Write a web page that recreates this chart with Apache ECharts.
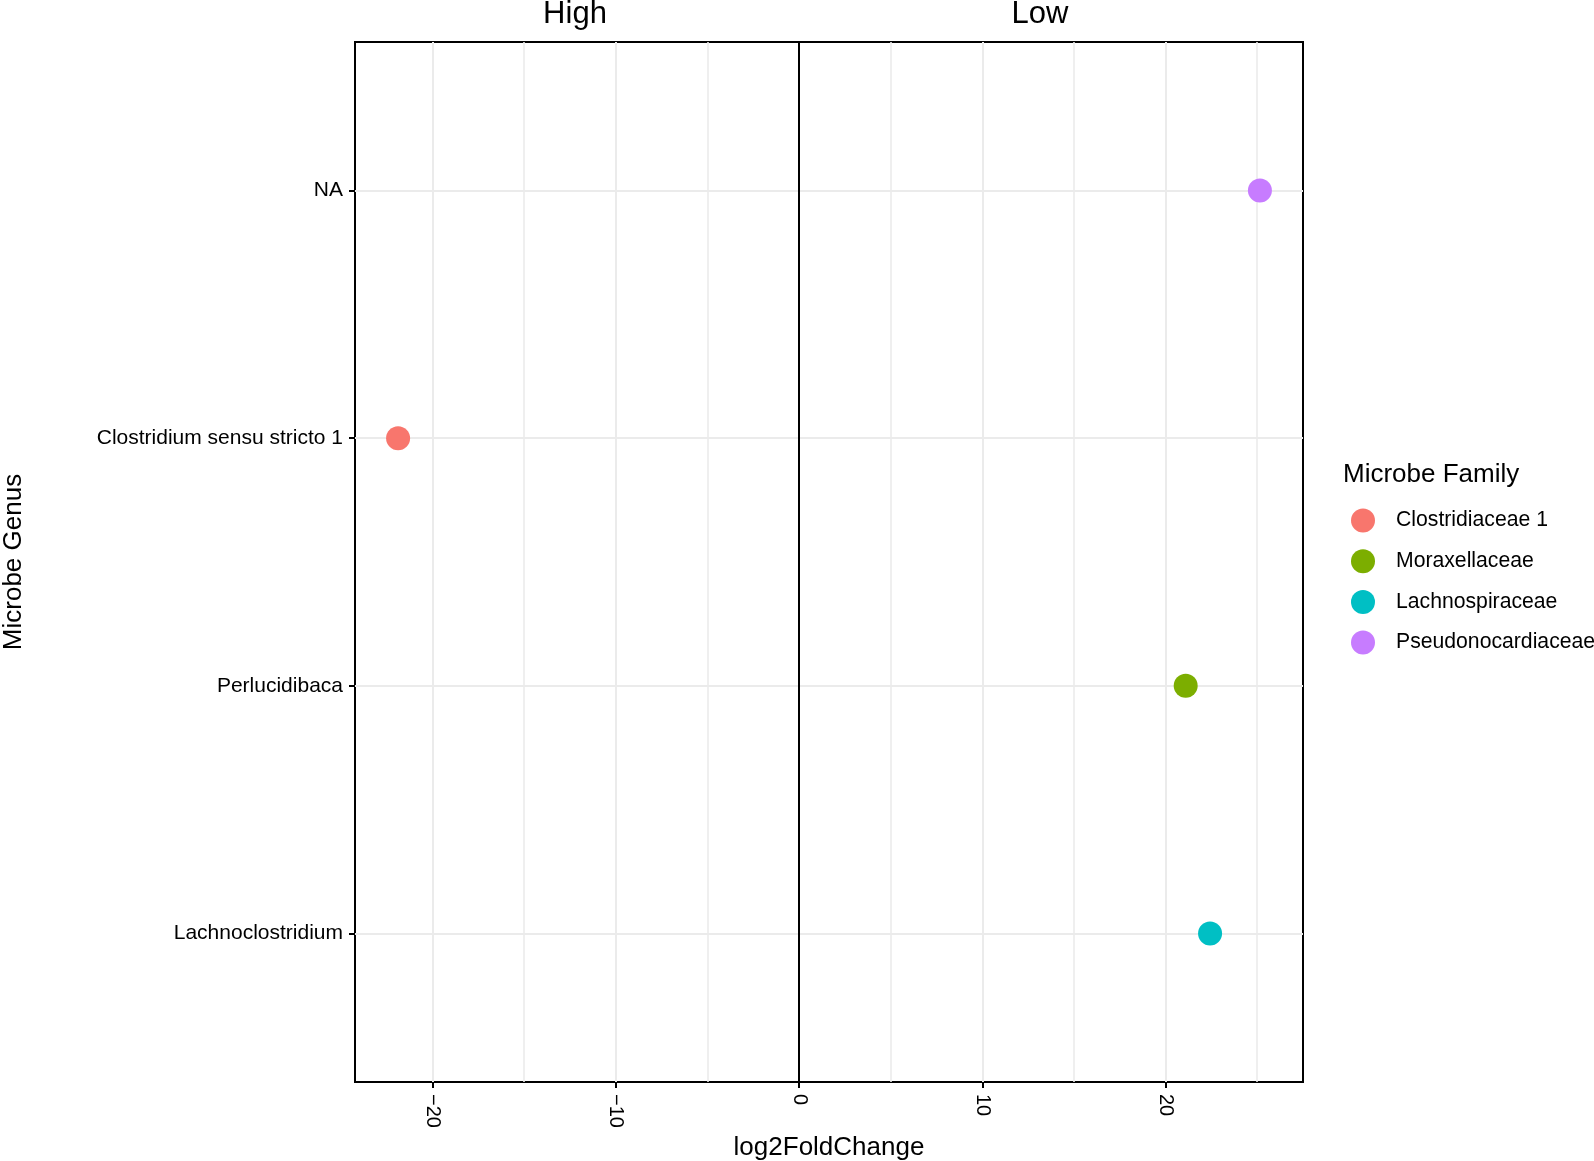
<!DOCTYPE html>
<html>
<head>
<meta charset="utf-8">
<script src="https://cdn.jsdelivr.net/npm/echarts@6/dist/echarts.min.js"></script>
<style>
html,body{margin:0;padding:0;background:#fff;}
#chart{width:1594px;height:1161px;}
</style>
</head>
<body>
<div id="chart"></div>
<script>
// ---- data ----
const genera = ['Lachnoclostridium', 'Perlucidibaca', 'Clostridium sensu stricto 1', 'NA']; // bottom -> top
const log2FoldChange = [22.43, 21.1, -21.88, 25.15];
const genusFamily = ['Lachnospiraceae', 'Moraxellaceae', 'Clostridiaceae 1', 'Pseudonocardiaceae'];
const families = ['Clostridiaceae 1', 'Moraxellaceae', 'Lachnospiraceae', 'Pseudonocardiaceae'];
const familyColors = ['#F8766D', '#7CAE00', '#00BFC4', '#C77CFF'];
const xMajorTicks = [-20, -10, 0, 10, 20];
const xMinorTicks = [-15, -5, 5, 15, 25];
const facetLabels = ['High', 'Low'];

const FONT = "'Liberation Sans', Arial, Helvetica, sans-serif";

// ggplot-like expansion (5% continuous, 0.6 discrete)
const dMin = Math.min(...log2FoldChange), dMax = Math.max(...log2FoldChange);
const pad = (dMax - dMin) * 0.05;
const xMin = dMin - pad, xMax = dMax + pad;
const yTicks = genera.map((g, i) => i);

const series = families.map((fam, k) => ({
  name: fam,
  type: 'scatter',
  xAxisIndex: 0,
  yAxisIndex: 0,
  symbol: 'circle',
  symbolSize: 24,
  itemStyle: { color: familyColors[k], opacity: 1 },
  z: 5,
  data: genera.map((g, i) => genusFamily[i] === fam ? [log2FoldChange[i], i] : null).filter(d => d)
}));
series.push({
  type: 'scatter',
  name: '__zero',
  data: [],
  xAxisIndex: 0,
  yAxisIndex: 0,
  z: 3,
  markLine: {
    silent: true,
    symbol: ['none', 'none'],
    label: { show: false },
    lineStyle: { color: '#000', width: 2, type: 'solid' },
    data: [{ xAxis: 0 }]
  }
});

const chart = echarts.init(document.getElementById('chart'), null, { renderer: 'canvas' });
chart.setOption({
  backgroundColor: '#fff',
  animation: false,
  textStyle: { fontFamily: FONT },
  grid: {
    left: 355, top: 42, width: 948, height: 1040,
    show: true, borderColor: '#000', borderWidth: 2, backgroundColor: 'transparent',
    containLabel: false
  },
  xAxis: [{
    type: 'value',
    min: xMin, max: xMax,
    position: 'bottom',
    axisLine: { show: false, onZero: false },
    axisTick: { show: true, length: 6, lineStyle: { color: '#000', width: 2 }, customValues: xMajorTicks },
    axisLabel: {
      customValues: xMajorTicks, rotate: -90, margin: 12,
      fontSize: 20, color: '#000', fontFamily: FONT,
      formatter: v => String(v).replace('-', '\u2212')
    },
    splitLine: { show: true, lineStyle: { color: '#EBEBEB', width: 2 } }
  }, {
    type: 'value',
    min: xMin, max: xMax,
    position: 'top',
    axisLine: { show: false, onZero: false },
    axisTick: { show: false, customValues: xMinorTicks },
    axisLabel: { show: false, customValues: xMinorTicks },
    splitLine: { show: true, lineStyle: { color: '#EBEBEB', width: 1.6 } }
  }],
  yAxis: {
    type: 'value',
    min: -0.6, max: genera.length - 1 + 0.6,
    position: 'left',
    axisLine: { show: false, onZero: false },
    axisTick: { show: true, length: 6, lineStyle: { color: '#000', width: 2 }, customValues: yTicks },
    axisLabel: {
      customValues: yTicks, margin: 12, fontSize: 21, color: '#000', fontFamily: FONT,
      formatter: v => genera[Math.round(v)]
    },
    splitLine: { show: true, lineStyle: { color: '#EBEBEB', width: 2 } }
  },
  legend: {
    data: families,
    orient: 'vertical',
    left: 1346, top: 503.5,
    itemWidth: 24, itemHeight: 24, itemGap: 16.7,
    icon: 'circle',
    formatter: n => '{a|' + n + '}',
    textStyle: {
      fontFamily: FONT, fontSize: 21.2, color: '#000',
      rich: { a: { fontFamily: FONT, fontSize: 21.2, color: '#000', padding: [0, 0, 0, 16] } }
    }
  },
  graphic: [
    { type: 'text', x: 575, y: 14, style: { text: facetLabels[0], font: '31px ' + FONT, fill: '#000', textAlign: 'center', textVerticalAlign: 'middle' } },
    { type: 'text', x: 1040, y: 14, style: { text: facetLabels[1], font: '31px ' + FONT, fill: '#000', textAlign: 'center', textVerticalAlign: 'middle' } },
    { type: 'text', x: 829, y: 1148, style: { text: 'log2FoldChange', font: '26px ' + FONT, fill: '#000', textAlign: 'center', textVerticalAlign: 'middle' } },
    { type: 'text', x: 14, y: 562, rotation: Math.PI / 2, style: { text: 'Microbe Genus', font: '26px ' + FONT, fill: '#000', textAlign: 'center', textVerticalAlign: 'middle' } },
    { type: 'text', x: 1343, y: 475, style: { text: 'Microbe Family', font: '26px ' + FONT, fill: '#000', textAlign: 'left', textVerticalAlign: 'middle' } }
  ],
  series: series
});
</script>
</body>
</html>
